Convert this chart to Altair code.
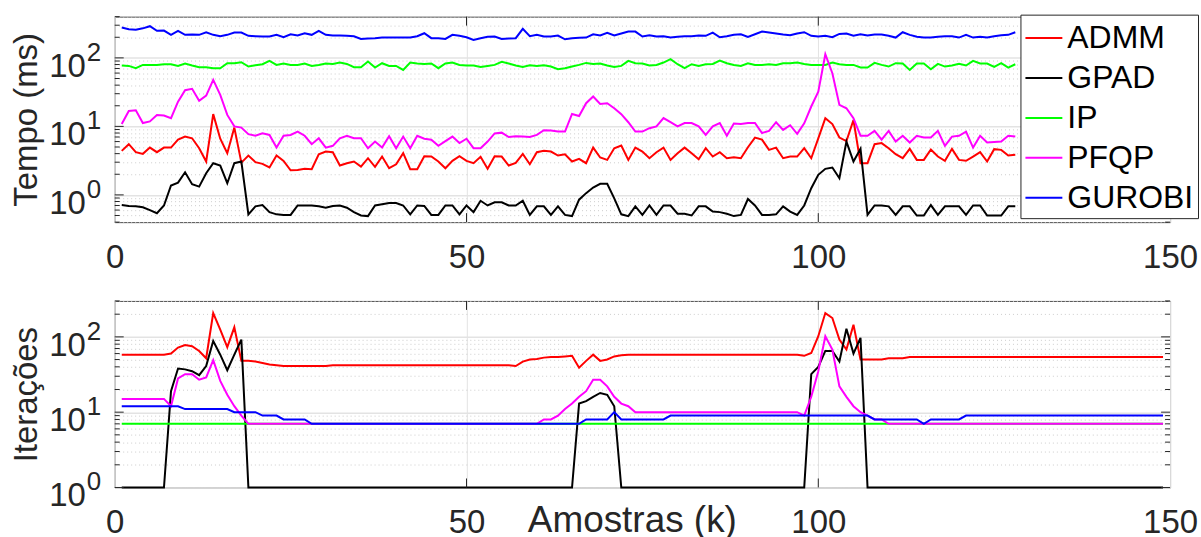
import altair as alt
import pandas as pd

# Sample index k for each panel
K_TOP = list(range(1, 129))
K_BOT = list(range(1, 150))

METODOS = ["ADMM", "GPAD", "IP", "PFQP", "GUROBI"]
CORES = ["#ff0000", "#000000", "#00ff00", "#ff00ff", "#0000ff"]

# Solver time per sample (ms)
T_ADMM = [
    4.39, 5.5, 4.2, 3.97, 4.9, 4.2, 4.9, 4.9, 6.4, 7.1,
    6.7, 4.8, 3.07, 15.1, 6.6, 4.06, 9.6, 2.96, 3.75, 3.0,
    2.84, 2.51, 3.75, 3.14, 2.29, 2.3, 2.4, 2.37, 3.92, 4.29,
    4.2, 2.68, 2.9, 3.07, 2.59, 3.43, 2.56, 3.63, 2.45, 2.8,
    4.06, 2.37, 2.37, 3.67, 3.63, 3.07, 2.45, 3.14, 3.67, 3.14,
    2.9, 3.59, 2.4, 3.67, 3.63, 2.68, 2.93, 3.97, 2.8, 4.2,
    4.39, 4.29, 3.75, 3.92, 3.07, 3.36, 2.9, 4.9, 3.51, 3.24,
    4.8, 5.25, 3.24, 4.9, 4.29, 3.43, 4.2, 4.9, 3.24, 4.06,
    4.9, 4.06, 3.32, 4.8, 3.63, 4.2, 3.43, 3.55, 3.43, 4.96,
    6.87, 6.4, 4.54, 4.9, 3.43, 3.63, 3.63, 4.8, 3.43, 6.7,
    13.2, 10.8, 6.87, 6.1, 12.4, 2.9, 2.9, 5.5, 5.7, 4.8,
    3.92, 3.43, 4.7, 3.24, 3.24, 4.6, 3.63, 3.14, 4.7, 3.24,
    3.14, 3.63, 4.2, 3.07, 4.65, 4.54, 3.75, 3.84,
]
T_GPAD = [
    0.71, 0.69, 0.68, 0.66, 0.60, 0.54, 0.70, 1.37, 1.51, 2.14,
    1.43, 1.32, 2.07, 2.9, 2.68, 1.48, 2.9, 3.07, 0.52, 0.68,
    0.71, 0.56, 0.52, 0.51, 0.51, 0.70, 0.70, 0.70, 0.68, 0.65,
    0.69, 0.70, 0.65, 0.56, 0.50, 0.49, 0.70, 0.73, 0.76, 0.76,
    0.70, 0.52, 0.70, 0.69, 0.51, 0.51, 0.70, 0.70, 0.52, 0.70,
    0.56, 0.82, 0.70, 0.78, 0.78, 0.70, 0.70, 0.82, 0.51, 0.68,
    0.68, 0.51, 0.68, 0.51, 0.49, 0.85, 1.06, 1.28, 1.45, 1.45,
    0.89, 0.52, 0.49, 0.68, 0.51, 0.70, 0.51, 0.70, 0.70, 0.53,
    0.53, 0.50, 0.68, 0.68, 0.57, 0.56, 0.53, 0.49, 0.51, 0.87,
    0.70, 0.51, 0.51, 0.52, 0.68, 0.57, 0.51, 0.70, 1.25, 1.96,
    2.40, 2.51, 1.75, 6.0, 3.07, 4.7, 0.51, 0.70, 0.70, 0.68,
    0.51, 0.68, 0.68, 0.50, 0.50, 0.71, 0.51, 0.68, 0.68, 0.68,
    0.51, 0.70, 0.70, 0.50, 0.50, 0.50, 0.68, 0.68,
]
T_IP = [
    77.3, 76.4, 70.7, 79.0, 79.0, 79.0, 80.8, 80.8, 76.4, 82.7,
    77.3, 73.1, 73.1, 70.7, 70.7, 83.6, 83.6, 86.4, 74.7, 78.1,
    80.8, 90.4, 79.0, 82.7, 79.0, 79.0, 82.7, 76.4, 79.0, 82.7,
    81.7, 85.5, 81.7, 73.1, 73.1, 88.4, 72.3, 83.6, 76.4, 76.4,
    66.8, 85.5, 82.7, 81.7, 82.7, 70.7, 82.7, 85.5, 79.0, 77.3,
    77.3, 73.9, 76.4, 79.0, 87.4, 82.7, 77.3, 73.9, 78.1, 76.4,
    78.1, 74.7, 68.4, 70.7, 74.7, 79.0, 84.5, 81.7, 82.7, 77.3,
    73.9, 76.4, 90.4, 83.6, 82.7, 77.3, 79.0, 85.5, 95.7, 80.8,
    70.7, 80.8, 76.4, 80.8, 81.7, 91.4, 83.6, 79.0, 76.4, 83.6,
    79.0, 79.0, 80.8, 79.0, 83.6, 83.6, 85.5, 81.7, 79.0, 79.0,
    79.0, 85.5, 80.8, 79.0, 79.0, 72.3, 72.3, 84.5, 79.0, 74.7,
    83.6, 82.7, 66.8, 82.7, 82.7, 68.4, 81.7, 74.7, 77.3, 81.7,
    77.3, 90.4, 82.7, 82.7, 73.9, 83.6, 72.3, 80.8,
]
T_PFQP = [
    10.8, 16.8, 17.2, 11.2, 11.8, 14.7, 14.4, 13.2, 23.0, 33.7,
    35.3, 23.6, 28.2, 47.7, 28.8, 14.7, 10.0, 9.6, 7.7, 7.3,
    7.9, 7.5, 4.9, 7.3, 7.5, 8.4, 7.3, 5.5, 6.7, 4.9,
    5.2, 6.7, 7.3, 6.7, 6.7, 4.8, 6.0, 4.9, 7.2, 4.8,
    7.1, 4.8, 7.3, 6.6, 6.4, 5.2, 6.1, 7.1, 5.7, 6.6,
    4.8, 4.8, 6.0, 7.9, 8.1, 7.0, 7.2, 7.1, 7.0, 7.5,
    8.8, 8.7, 8.4, 8.4, 15.2, 14.2, 21.8, 27.3, 21.3, 21.8,
    18.4, 15.1, 11.5, 8.4, 8.4, 9.4, 10.0, 13.2, 11.5, 10.0,
    11.2, 11.2, 10.0, 7.5, 10.0, 11.2, 7.3, 11.0, 10.8, 11.2,
    11.2, 8.0, 8.6, 11.5, 8.9, 10.4, 7.8, 11.1, 19.5, 32.2,
    113.0, 59.7, 20.6, 18.4, 13.2, 7.3, 7.3, 8.6, 6.4, 8.6,
    6.0, 7.3, 5.8, 7.3, 6.9, 6.9, 8.6, 5.2, 7.1, 7.3,
    8.4, 4.9, 7.3, 5.8, 5.9, 6.0, 7.3, 7.1,
]
T_GUROBI = [
    277, 262, 258, 270, 290, 248, 250, 217, 248, 217,
    220, 217, 237, 217, 207, 217, 234, 234, 210, 207,
    205, 205, 217, 200, 221, 212, 229, 217, 248, 217,
    212, 212, 210, 207, 189, 192, 194, 198, 198, 198,
    198, 198, 207, 229, 194, 194, 189, 217, 210, 200,
    183, 194, 203, 205, 189, 192, 194, 265, 207, 217,
    205, 205, 212, 187, 194, 196, 198, 221, 212, 232,
    212, 227, 242, 242, 205, 214, 205, 207, 198, 203,
    207, 207, 212, 210, 234, 200, 207, 217, 221, 203,
    221, 242, 234, 227, 219, 214, 227, 237, 210, 205,
    210, 200, 224, 227, 210, 221, 212, 219, 219, 210,
    198, 237, 217, 203, 198, 198, 203, 207, 207, 198,
    217, 198, 203, 198, 207, 214, 217, 237,
]

# Iterations per sample
IT_ADMM = [
    58, 58, 58, 58, 58, 58, 58, 60, 72, 78,
    75, 65, 52, 207, 125, 73, 134, 48, 48, 47,
    45, 43, 42, 41, 41, 41, 41, 41, 41, 41,
    42, 42, 42, 42, 42, 42, 42, 42, 42, 42,
    42, 42, 42, 42, 42, 42, 42, 42, 42, 42,
    42, 42, 42, 42, 42, 42, 41, 47, 50, 51,
    53, 54, 54, 55, 56, 39, 48, 58, 48, 50,
    55, 57, 58, 58, 58, 58, 58, 58, 58, 58,
    58, 58, 58, 58, 58, 58, 58, 58, 58, 58,
    58, 58, 58, 58, 58, 58, 58, 56, 61, 102,
    207, 178, 92, 68, 145, 50, 50, 50, 50, 52,
    52, 52, 54, 54, 54, 54, 54, 54, 54, 54,
    54, 54, 54, 54, 54, 54, 54, 54, 54, 54,
    54, 54, 54, 54, 54, 54, 54, 54, 54, 54,
    54, 54, 54, 54, 54, 54, 54, 54, 54,
]
IT_GPAD = [
    1, 1, 1, 1, 1, 1, 1, 19, 38, 37,
    35, 31, 41, 88, 58, 36, 58, 92, 1, 1,
    1, 1, 1, 1, 1, 1, 1, 1, 1, 1,
    1, 1, 1, 1, 1, 1, 1, 1, 1, 1,
    1, 1, 1, 1, 1, 1, 1, 1, 1, 1,
    1, 1, 1, 1, 1, 1, 1, 1, 1, 1,
    1, 1, 1, 1, 1, 13, 14, 16, 18, 17,
    12, 1, 1, 1, 1, 1, 1, 1, 1, 1,
    1, 1, 1, 1, 1, 1, 1, 1, 1, 1,
    1, 1, 1, 1, 1, 1, 1, 1, 32, 40,
    65, 65, 47, 128, 60, 97, 1, 1, 1, 1,
    1, 1, 1, 1, 1, 1, 1, 1, 1, 1,
    1, 1, 1, 1, 1, 1, 1, 1, 1, 1,
    1, 1, 1, 1, 1, 1, 1, 1, 1, 1,
    1, 1, 1, 1, 1, 1, 1, 1, 1,
]
IT_IP = [
    7, 7, 7, 7, 7, 7, 7, 7, 7, 7,
    7, 7, 7, 7, 7, 7, 7, 7, 7, 7,
    7, 7, 7, 7, 7, 7, 7, 7, 7, 7,
    7, 7, 7, 7, 7, 7, 7, 7, 7, 7,
    7, 7, 7, 7, 7, 7, 7, 7, 7, 7,
    7, 7, 7, 7, 7, 7, 7, 7, 7, 7,
    7, 7, 7, 7, 7, 7, 7, 7, 7, 7,
    7, 7, 7, 7, 7, 7, 7, 7, 7, 7,
    7, 7, 7, 7, 7, 7, 7, 7, 7, 7,
    7, 7, 7, 7, 7, 7, 7, 7, 7, 7,
    7, 7, 7, 7, 7, 7, 7, 7, 7, 7,
    7, 7, 7, 7, 7, 7, 7, 7, 7, 7,
    7, 7, 7, 7, 7, 7, 7, 7, 7, 7,
    7, 7, 7, 7, 7, 7, 7, 7, 7, 7,
    7, 7, 7, 7, 7, 7, 7, 7, 7,
]
IT_PFQP = [
    15, 15, 15, 15, 15, 15, 15, 12, 28, 32,
    32, 27, 29, 49, 26, 17, 12, 9, 7, 7,
    7, 7, 7, 7, 7, 7, 7, 7, 7, 7,
    7, 7, 7, 7, 7, 7, 7, 7, 7, 7,
    7, 7, 7, 7, 7, 7, 7, 7, 7, 7,
    7, 7, 7, 7, 7, 7, 7, 7, 7, 7,
    8, 8, 9, 11, 13, 16, 19, 27, 27, 22,
    16, 13, 12, 10, 10, 10, 10, 10, 10, 10,
    10, 10, 10, 10, 10, 10, 10, 10, 10, 10,
    10, 10, 10, 10, 10, 10, 10, 9, 16, 35,
    102, 68, 22, 16, 12, 10, 9, 8, 8, 7,
    7, 7, 7, 7, 7, 7, 7, 7, 7, 7,
    7, 7, 7, 7, 7, 7, 7, 7, 7, 7,
    7, 7, 7, 7, 7, 7, 7, 7, 7, 7,
    7, 7, 7, 7, 7, 7, 7, 7, 7,
]
IT_GUROBI = [
    12, 12, 12, 12, 12, 12, 12, 12, 12, 11,
    11, 11, 11, 11, 11, 11, 10, 10, 10, 10,
    9, 9, 9, 8, 8, 8, 8, 7, 7, 7,
    7, 7, 7, 7, 7, 7, 7, 7, 7, 7,
    7, 7, 7, 7, 7, 7, 7, 7, 7, 7,
    7, 7, 7, 7, 7, 7, 7, 7, 7, 7,
    7, 7, 7, 7, 7, 7, 8, 8, 8, 8,
    10, 8, 8, 8, 8, 8, 8, 8, 9, 9,
    9, 9, 9, 9, 9, 9, 9, 9, 9, 9,
    9, 9, 9, 9, 9, 9, 9, 9, 9, 9,
    9, 9, 9, 9, 9, 9, 9, 8, 8, 8,
    8, 8, 8, 8, 7, 8, 8, 8, 8, 8,
    9, 9, 9, 9, 9, 9, 9, 9, 9, 9,
    9, 9, 9, 9, 9, 9, 9, 9, 9, 9,
    9, 9, 9, 9, 9, 9, 9, 9, 9,
]

X_TICKS = [0, 50, 100, 150]
DECADAS = [1, 10, 100]
EXPOENTES = ["0", "1", "2"]

FONT = "Liberation Sans"
TXT = "#262626"
FRAME = "#4d4d4d"
W = 1058

IS_DEC = "abs(log(datum.value) / LN10 - round(log(datum.value) / LN10)) < 0.001"


def long_df(k, series):
    rows = []
    for nome, vals in zip(METODOS, series):
        for kk, v in zip(k, vals):
            rows.append({"k": kk, "v": v, "metodo": nome})
    return pd.DataFrame(rows)


def log_ticks(lo, hi):
    out = []
    for e in range(-1, 3):
        for m in range(1, 10):
            v = round(m * 10 ** e, 6)
            if lo - 1e-9 <= v <= hi + 1e-9:
                out.append(v)
    return out


def painel(df, ydom, H, ytitle, legenda, xtitle):
    xs = alt.Scale(domain=[0, 150], nice=False, zero=False)
    ys = alt.Scale(type="log", domain=ydom, nice=False)
    yt = log_ticks(*ydom)
    major = [v for v in yt if v in DECADAS]
    minor = [v for v in yt if v not in DECADAS]

    xargs = dict(
        values=X_TICKS, grid=True, gridColor="#e3e3e3", gridWidth=1,
        ticks=False, domain=False, labelFont=FONT, labelFontSize=33,
        labelColor=TXT, labelPadding=19, labelFlush=False,
        labelOverlap=False, format="d",
    )
    if xtitle:
        xargs.update(
            title=xtitle, titleFont=FONT, titleFontSize=37,
            titleFontWeight="normal", titleColor=TXT, titleX=W * 0.49,
            titleY=44.5, titleBaseline="alphabetic", titleAlign="center",
        )
    else:
        xargs.update(title=None)
    x_axis = alt.Axis(**xargs)

    y_axis = alt.Axis(
        values=yt, labels=False, ticks=False, domain=False, grid=True,
        gridColor={"condition": {"test": IS_DEC, "value": "#e3e3e3"}, "value": "#cdcdcd"},
        gridDash={"condition": {"test": IS_DEC, "value": [1, 0]}, "value": [1, 3]},
        gridWidth={"condition": {"test": IS_DEC, "value": 1.5}, "value": 1},
        title=ytitle, titleFont=FONT, titleFontSize=33, titleFontWeight="normal",
        titleColor=TXT, titleX=-78, titleY=H / 2, titleAngle=270,
        titleAlign="center", titleBaseline="alphabetic",
    )

    X = alt.X("k:Q", scale=xs, axis=x_axis)
    Y = alt.Y("v:Q", scale=ys, axis=y_axis)
    cor = alt.Color(
        "metodo:N", scale=alt.Scale(domain=METODOS, range=CORES), legend=legenda
    )

    camadas = []
    for nome in METODOS:
        camadas.append(
            alt.Chart(df)
            .transform_filter(alt.datum.metodo == nome)
            .mark_line(strokeWidth=2)
            .encode(x=X, y=Y, color=cor)
        )

    # inward tick marks on the box, MATLAB style
    maj_df = pd.DataFrame({"v": major})
    min_df = pd.DataFrame({"v": minor})
    for d, n in ((maj_df, 9), (min_df, 5)):
        camadas.append(alt.Chart(d).mark_rule(color=TXT, strokeWidth=1).encode(
            y=Y, x=alt.value(0), x2=alt.value(n)))
        camadas.append(alt.Chart(d).mark_rule(color=TXT, strokeWidth=1).encode(
            y=Y, x=alt.value(W - n), x2=alt.value(W)))
    xt_df = pd.DataFrame({"k": X_TICKS[1:-1]})
    camadas.append(alt.Chart(xt_df).mark_rule(color=TXT, strokeWidth=1).encode(
        x=X, y=alt.value(0), y2=alt.value(9)))
    camadas.append(alt.Chart(xt_df).mark_rule(color=TXT, strokeWidth=1).encode(
        x=X, y=alt.value(H - 9), y2=alt.value(H)))

    # y tick labels written as 10 with a raised exponent
    lab_df = pd.DataFrame({"v": DECADAS, "e": EXPOENTES})
    camadas.append(
        alt.Chart(lab_df)
        .mark_text(align="right", baseline="alphabetic", dy=19, font=FONT,
                   fontSize=33, color=TXT)
        .encode(y=Y, x=alt.value(-29), text=alt.value("10"))
    )
    camadas.append(
        alt.Chart(lab_df)
        .mark_text(align="left", baseline="alphabetic", dy=3, font=FONT,
                   fontSize=26, color=TXT)
        .encode(y=Y, x=alt.value(-28), text="e:N")
    )

    return alt.layer(*camadas).properties(width=W, height=H)


legenda = alt.Legend(
    orient="none", legendX=908, legendY=-2, title=None, direction="vertical",
    fillColor="white", strokeColor=TXT, padding=4, cornerRadius=0,
    symbolType="stroke", symbolSize=1369, symbolStrokeWidth=2,
    labelFont=FONT, labelFontSize=32, labelColor="black", labelOffset=4,
    rowPadding=4, zindex=1,
)

topo = painel(
    long_df(K_TOP, [T_ADMM, T_GPAD, T_IP, T_PFQP, T_GUROBI]),
    [0.4, 400], 206, "Tempo (ms)", legenda, None,
)
base = painel(
    long_df(K_BOT, [IT_ADMM, IT_GPAD, IT_IP, IT_PFQP, IT_GUROBI]),
    [1, 300], 187, "Iterações", None, "Amostras (k)",
)

chart = (
    alt.vconcat(topo, base, spacing=79, bounds="flush")
    .resolve_legend(color="independent")
    .properties(padding={"left": 10, "top": 13, "right": 2, "bottom": 10})
    .configure(font=FONT)
    .configure_view(stroke=FRAME, strokeWidth=1)
)

chart.save("out.html", embed_options={"renderer": "svg", "actions": False})
